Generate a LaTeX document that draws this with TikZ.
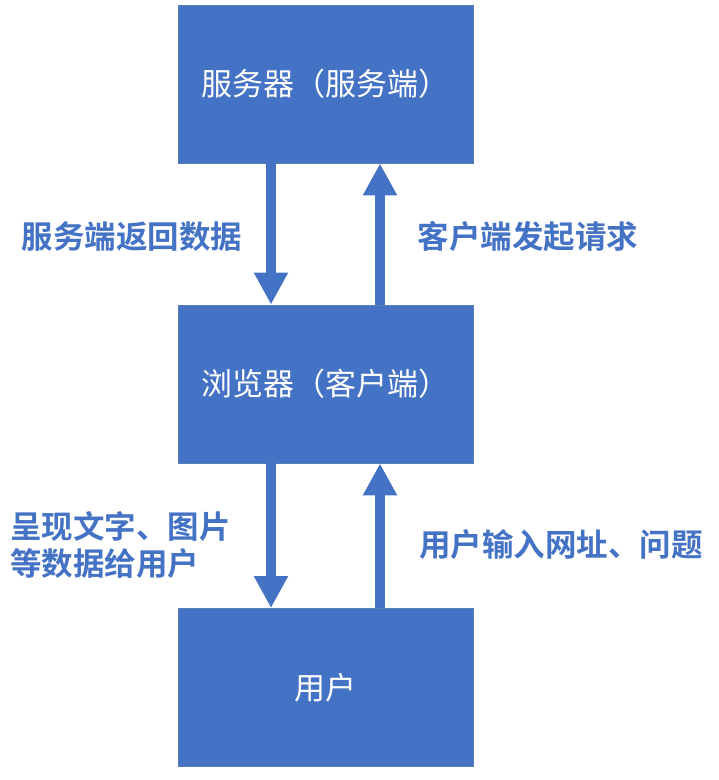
\documentclass[tikz,border=0pt]{standalone}
\usepackage{fontspec}
\setmainfont{Noto Sans CJK SC}
\newfontfamily\cjkb{Noto Sans CJK SC Bold}
\usetikzlibrary{arrows.meta}
\definecolor{boxblue}{HTML}{4472C4}
\definecolor{edgeblue}{HTML}{5A7FB8}
\begin{document}
\begin{tikzpicture}[x=1pt,y=-1pt,
  box/.style={fill=boxblue,draw=edgeblue,line width=0.8pt,minimum width=295pt,minimum height=158pt,inner sep=0pt,text=white,font=\fontsize{31}{37}\selectfont},
  lab/.style={text=boxblue,font=\cjkb\fontsize{31.5}{37}\selectfont,inner sep=0pt},
  flow/.style={draw=boxblue,line width=10pt,-{Triangle[width=32pt,length=32pt]}}]
\useasboundingbox (0,0) rectangle (719,780);
\node[box] (srv) at (325.5,84) {服务器（服务端）};
\node[box] (brw) at (325.5,384) {浏览器（客户端）};
\node[box] (usr) at (325.5,687.5) {用户};
\draw[flow] ([xshift=-54.5pt]srv.south) -- ([xshift=-54.5pt]brw.north);
\draw[flow] ([xshift=54.5pt]brw.north) -- ([xshift=54.5pt]srv.south);
\draw[flow] ([xshift=-54.5pt]brw.south) -- ([xshift=-54.5pt]usr.north);
\draw[flow] ([xshift=54.5pt]usr.north) -- ([xshift=54.5pt]brw.south);
\node[lab] (l1) at (132,237) {服务端返回数据};
\node[lab] (l2) at (528,237) {客户端发起请求};
\node[lab,align=left,anchor=west,font=\cjkb\fontsize{31.5}{36.5}\selectfont] (l3) at (10,545) {呈现文字、图片\\等数据给用户};
\node[lab] (l4) at (561,545) {用户输入网址、问题};
\end{tikzpicture}
\end{document}
